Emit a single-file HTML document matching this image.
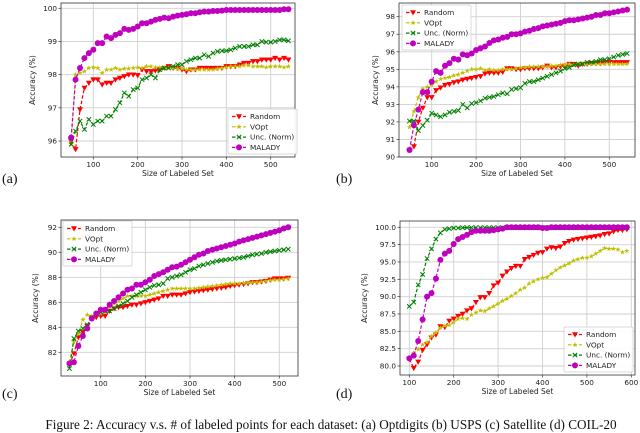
<!DOCTYPE html>
<html><head><meta charset="utf-8"><style>
html,body{margin:0;padding:0;background:#fff;}
svg{display:block;font-family:"DejaVu Sans","Liberation Sans",sans-serif;}
.serif{font-family:"Liberation Serif",serif;}
</style></head><body>
<svg id="fig" width="640" height="433" viewBox="0 0 640 433" xmlns="http://www.w3.org/2000/svg"></svg>
<script>
// ---- data ----
const seriesNames = ["Random","VOpt","Unc. (Norm)","MALADY"];
const aXStart = 50, bXStart = 50, cXStart = 30, dXStart = 100;
const aYTicks = [96,97,98,99,100];
const aXTicks = [100,200,300,400,500];
const aRandom = [96.0,95.75,96.95,97.6,97.75,97.85,97.85,97.7,97.75,97.75,97.85,97.9,97.95,98.0,98.0,97.98,98.15,98.1,98.1,98.12,98.15,98.2,98.25,98.2,98.2,98.15,98.1,98.15,98.15,98.2,98.2,98.2,98.2,98.2,98.2,98.25,98.25,98.25,98.3,98.35,98.35,98.4,98.4,98.45,98.45,98.45,98.5,98.45,98.5,98.45];
const aVOpt = [95.9,98.0,98.05,98.1,98.2,98.22,98.2,98.05,98.15,98.15,98.2,98.15,98.18,98.18,98.2,98.22,98.2,98.25,98.25,98.22,98.22,98.2,98.2,98.2,98.18,98.18,98.15,98.15,98.15,98.15,98.15,98.15,98.15,98.18,98.2,98.22,98.25,98.25,98.25,98.28,98.28,98.25,98.25,98.25,98.22,98.25,98.25,98.25,98.22,98.25];
const aUnc = [95.9,96.3,96.6,96.35,96.65,96.5,96.6,96.6,96.75,96.75,96.95,97.15,97.45,97.35,97.55,97.6,97.85,97.9,98.0,97.9,98.15,98.2,98.2,98.25,98.3,98.3,98.4,98.45,98.5,98.5,98.6,98.55,98.65,98.7,98.72,98.72,98.75,98.8,98.85,98.85,98.85,98.9,98.9,99.0,98.98,98.98,99.0,99.05,99.05,99.02];
const aMalady = [96.1,97.85,98.2,98.5,98.65,98.75,98.95,98.95,99.15,99.1,99.2,99.25,99.38,99.35,99.38,99.45,99.55,99.55,99.6,99.65,99.68,99.72,99.7,99.75,99.78,99.8,99.82,99.85,99.85,99.88,99.9,99.9,99.92,99.92,99.93,99.95,99.95,99.95,99.95,99.95,99.95,99.95,99.95,99.95,99.95,99.95,99.95,99.95,99.97,99.97];
const bYTicks = [90,91,92,93,94,95,96,97,98];
const bXTicks = [100,200,300,400,500];
const bRandom = [90.4,90.6,92.0,92.8,93.4,93.4,93.8,93.95,94.1,94.15,94.25,94.3,94.4,94.45,94.5,94.55,94.6,94.75,94.8,94.8,94.8,94.85,95.05,95.05,95.0,95.0,95.05,95.05,95.05,95.05,95.1,95.2,95.1,95.1,95.15,95.2,95.3,95.3,95.2,95.3,95.3,95.35,95.35,95.35,95.4,95.4,95.4,95.4,95.4,95.4];
const bVOpt = [91.7,92.6,93.4,93.9,94.0,94.1,94.3,94.45,94.5,94.55,94.65,94.7,94.8,94.9,95.0,95.0,95.05,94.95,95.0,94.95,94.95,95.0,95.0,95.0,95.05,95.1,95.1,95.15,95.15,95.15,95.15,95.15,95.2,95.2,95.25,95.25,95.3,95.25,95.3,95.3,95.3,95.3,95.3,95.3,95.3,95.3,95.3,95.3,95.3,95.3];
const bUnc = [92.05,92.05,91.5,91.8,92.1,92.5,92.4,92.3,92.4,92.55,92.6,92.65,93.0,92.8,93.05,93.1,93.2,93.35,93.4,93.45,93.55,93.65,93.6,93.85,93.9,93.95,94.2,94.3,94.3,94.4,94.5,94.6,94.7,94.8,94.9,95.05,95.1,95.25,95.3,95.3,95.4,95.4,95.45,95.55,95.55,95.6,95.7,95.8,95.85,95.9];
const bMalady = [90.4,91.8,92.7,93.7,93.7,94.3,94.9,94.8,95.2,95.35,95.6,95.55,95.85,95.8,95.9,96.1,96.2,96.3,96.5,96.65,96.7,96.8,96.85,97.0,97.0,97.05,97.15,97.2,97.3,97.35,97.45,97.5,97.55,97.6,97.65,97.75,97.8,97.8,97.85,97.9,97.95,98.0,98.1,98.1,98.2,98.2,98.25,98.3,98.35,98.4];
const cYTicks = [82,84,86,88,90,92];
const cXTicks = [100,200,300,400,500];
const cRandom = [81.0,81.9,83.2,83.6,84.1,84.7,84.8,84.9,84.9,85.3,85.5,85.6,85.6,85.7,85.8,85.8,85.9,86.0,86.1,86.2,86.3,86.5,86.5,86.6,86.6,86.6,86.7,86.8,86.85,86.9,86.95,87.0,87.05,87.1,87.15,87.2,87.3,87.35,87.4,87.45,87.5,87.6,87.6,87.65,87.7,87.8,87.9,87.9,87.9,87.95];
const cVOpt = [81.2,82.8,83.5,84.6,85.0,84.9,85.0,85.1,85.2,85.6,85.9,86.1,86.3,86.5,86.5,86.5,86.5,86.5,86.6,86.7,86.8,86.9,87.0,87.1,87.1,87.1,87.1,87.1,87.1,87.15,87.2,87.25,87.3,87.35,87.4,87.45,87.5,87.5,87.5,87.55,87.55,87.6,87.6,87.65,87.7,87.75,87.8,87.8,87.85,87.9];
const cUnc = [80.7,83.1,83.7,83.9,84.2,84.8,85.0,85.2,85.3,85.3,85.5,85.7,85.9,86.1,86.4,86.6,86.8,87.0,87.2,87.35,87.4,87.5,87.9,88.0,88.1,88.2,88.4,88.6,88.7,88.9,89.0,89.1,89.2,89.3,89.35,89.4,89.45,89.5,89.55,89.6,89.7,89.8,89.85,89.9,90.0,90.05,90.1,90.15,90.2,90.25];
const cMalady = [81.1,81.2,82.5,83.3,83.9,84.7,85.1,85.4,85.4,85.8,86.1,86.4,86.7,87.0,87.1,87.4,87.4,87.6,87.8,88.1,88.25,88.4,88.6,88.8,88.85,89.0,89.2,89.4,89.6,89.8,89.9,90.1,90.2,90.3,90.4,90.5,90.6,90.7,90.85,90.95,91.05,91.15,91.25,91.35,91.45,91.55,91.65,91.75,91.9,92.0];
const dYTicks = [80,82.5,85,87.5,90,92.5,95,97.5,100];
const dYTickLabels = ["80.0","82.5","85.0","87.5","90.0","92.5","95.0","97.5","100.0"];
const dXTicks = [100,200,300,400,500,600];
const dRandom = [81.0,79.7,80.6,82.3,83.1,84.1,84.5,85.7,85.6,86.5,86.8,87.2,87.5,88.0,88.3,89.2,89.9,89.9,90.5,91.6,92.0,93.0,93.6,94.1,94.4,94.4,95.4,95.7,96.0,96.3,96.4,96.9,97.1,97.0,97.2,97.7,98.0,98.2,98.3,98.4,98.5,98.6,98.7,98.8,99.0,99.1,99.4,99.6,99.6,99.7];
const dVOpt = [81.2,81.9,82.4,83.1,83.4,84.3,84.8,85.5,85.8,85.9,86.3,86.8,86.9,86.8,87.4,87.7,88.0,87.9,88.3,88.6,89.0,89.4,89.7,90.1,90.5,91.0,91.3,91.9,92.2,92.5,92.7,92.8,93.3,93.8,94.2,94.5,94.8,95.2,95.4,95.6,95.6,95.8,96.2,96.6,97.0,96.9,96.9,96.8,96.4,96.6];
const dUnc = [88.6,89.2,91.7,93.2,95.5,96.9,98.3,99.2,99.7,99.8,99.9,99.9,99.95,99.95,99.95,99.95,99.95,99.95,99.95,99.95,99.95,99.95,99.95,99.95,99.95,99.95,99.95,99.95,99.95,99.95,99.95,99.95,99.95,99.95,99.95,99.95,99.95,99.95,99.95,99.95,99.95,99.95,99.95,99.95,99.95,99.95,99.95,99.95,99.95,99.95];
const dMalady = [81.1,81.5,83.6,86.7,90.0,90.5,92.6,95.3,96.2,96.6,97.6,98.3,98.6,98.9,99.3,99.5,99.5,99.5,99.5,99.6,99.7,99.8,100,100,100,100,100,100,100,100,99.9,99.9,100,100,100,100,100,100,100,100,100,100,100,100,100,100,100,100,100,100];

// ---- layout ----
const NS = "http://www.w3.org/2000/svg";
const svg = document.getElementById('fig');
const colors = ["#ff0000","#bfbf00","#008000","#bf00bf"];
const panels = [
 {id:"a", box:[61,3,295,157], xr:[aXTicks[0],aXTicks[aXTicks.length-1]], xp:[93.3,270.7], yr:[aYTicks[0],aYTicks[aYTicks.length-1]], yp:[141,8.3], xt:aXTicks, yt:aYTicks, yl:aYTicks.map(String), xs:aXStart, s:[aRandom,aVOpt,aUnc,aMalady], leg:[228,109], ytx:35, lab:[2,183]},
 {id:"b", box:[399,3,635,157], xr:[bXTicks[0],bXTicks[bXTicks.length-1]], xp:[431.7,609.3], yr:[bYTicks[0],bYTicks[bYTicks.length-1]], yp:[157,16.7], xt:bXTicks, yt:bYTicks, yl:bYTicks.map(String), xs:bXStart, s:[bRandom,bVOpt,bUnc,bMalady], leg:[402,5], ytx:378, lab:[336,183]},
 {id:"c", box:[61,220,298,376], xr:[cXTicks[0],cXTicks[cXTicks.length-1]], xp:[100.7,279.3], yr:[cYTicks[0],cYTicks[cYTicks.length-1]], yp:[352.3,227.3], xt:cXTicks, yt:cYTicks, yl:cYTicks.map(String), xs:cXStart, s:[cRandom,cVOpt,cUnc,cMalady], leg:[63,221], ytx:38, lab:[2,398]},
 {id:"d", box:[400,221,635,375], xr:[dXTicks[0],dXTicks[dXTicks.length-1]], xp:[409.3,631.3], yr:[dYTicks[0],dYTicks[dYTicks.length-1]], yp:[366,227.3], xt:dXTicks, yt:dYTicks, yl:dYTickLabels, xs:dXStart, s:[dRandom,dVOpt,dUnc,dMalady], leg:[564,327], ytx:367, lab:[336,398]}
];
function mk(tag, attrs, parent){const e=document.createElementNS(NS,tag);for(const k in attrs)e.setAttribute(k,attrs[k]);(parent||svg).appendChild(e);return e;}
function marker(g, k, x, y, c){
  let m;
  if(k===0){m=mk('polygon',{points:`${x-3},${y-2.2} ${x+3},${y-2.2} ${x},${y+3}`,fill:c},g);}
  else if(k===1){let p=[];for(let i=0;i<10;i++){const r=i%2?1.1:2.8,a=-Math.PI/2+i*Math.PI/5;p.push((x+r*Math.cos(a)).toFixed(2)+','+(y+r*Math.sin(a)).toFixed(2));}m=mk('polygon',{points:p.join(' '),fill:c},g);}
  else if(k===2){m=mk('path',{d:`M${x-2.2},${y-2.2}L${x+2.2},${y+2.2}M${x-2.2},${y+2.2}L${x+2.2},${y-2.2}`,stroke:c,'stroke-width':1,fill:'none'},g);}
  else {m=mk('circle',{cx:x,cy:y,r:3,fill:c},g);}
  return m;
}
panels.forEach(P=>{
  const g=mk('g',{});
  
  
  const [L,T,R,B]=P.box;
  const sx=v=>P.xp[0]+(v-P.xr[0])*(P.xp[1]-P.xp[0])/(P.xr[1]-P.xr[0]);
  const sy=v=>P.yp[0]+(v-P.yr[0])*(P.yp[1]-P.yp[0])/(P.yr[1]-P.yr[0]);
  P.xt.forEach(t=>{const x=sx(t);
    const gl=mk('line',{x1:x,x2:x,y1:T,y2:B,stroke:'#cfcfcf','stroke-width':0.9},g);
    
    mk('line',{x1:x,x2:x,y1:B,y2:B+2.5,stroke:'#333','stroke-width':0.7},g);
    const tx=mk('text',{x:x,y:B+10,'font-size':7.3,'text-anchor':'middle',fill:'#222'},g);tx.textContent=t;
    
  });
  P.yt.forEach((t,i)=>{const y=sy(t);
    const gl=mk('line',{x1:L,x2:R,y1:y,y2:y,stroke:'#cfcfcf','stroke-width':0.9},g);
    
    mk('line',{x1:L-2.5,x2:L,y1:y,y2:y,stroke:'#333','stroke-width':0.7},g);
    const tx=mk('text',{x:L-4,y:y+2.5,'font-size':7.3,'text-anchor':'end',fill:'#222'},g);tx.textContent=P.yl[i];
    
  });
  P.s.forEach((arr,k)=>{
    const sg=mk('g',{},g);
    
    
    const pts=arr.map((v,i)=>[sx(P.xs+10*i),sy(v)]);
    mk('polyline',{points:pts.map(p=>p[0].toFixed(1)+','+p[1].toFixed(1)).join(' '),fill:'none',stroke:colors[k],'stroke-width':1.2,'stroke-dasharray':'3.5,2'},sg);
    pts.forEach(p=>{const m=marker(sg,k,p[0],p[1],colors[k]);
      });
  });
  const fr=mk('rect',{x:L,y:T,width:R-L,height:B-T,fill:'none',stroke:'#333','stroke-width':0.8},g);
  
  const xt=mk('text',{x:(L+R)/2,y:B+19,'font-size':7.5,'text-anchor':'middle',fill:'#222'},g);xt.textContent='Size of Labeled Set';
  
  const yc=(T+B)/2;
  const yt=mk('text',{x:P.ytx,y:yc,'font-size':7.5,'text-anchor':'middle',fill:'#222',transform:`rotate(-90 ${P.ytx} ${yc})`},g);yt.textContent='Accuracy (%)';
  
  const lg=mk('g',{},g);
  
  const [lx,ly]=P.leg;
  mk('rect',{x:lx,y:ly,width:69,height:45,fill:'#fff','fill-opacity':0.9,stroke:'#ccc','stroke-width':0.7,rx:1.5},lg);
  seriesNames.forEach((n,k)=>{const y=ly+7.5+k*10.3;
    const e=mk('g',{},lg);
    
    mk('line',{x1:lx+4,x2:lx+18,y1:y,y2:y,stroke:colors[k],'stroke-width':1.2,'stroke-dasharray':'3.5,2'},e);
    marker(e,k,lx+11,y,colors[k]);
    const t=mk('text',{x:lx+22,y:y+2.6,'font-size':7.3,fill:'#222'},e);t.textContent=n;
  });
  const pl=mk('text',{x:P.lab[0],y:P.lab[1],'font-size':14,fill:'#111','class':'serif'},g);pl.textContent='('+P.id+')';
  
});
const cap=mk('text',{x:331,y:429,'font-size':13.2,'text-anchor':'middle',fill:'#111','class':'serif'});
cap.textContent='Figure 2:  Accuracy v.s. # of labeled points for each dataset: (a) Optdigits (b) USPS (c) Satellite (d) COIL-20';


</script>
</body></html>
